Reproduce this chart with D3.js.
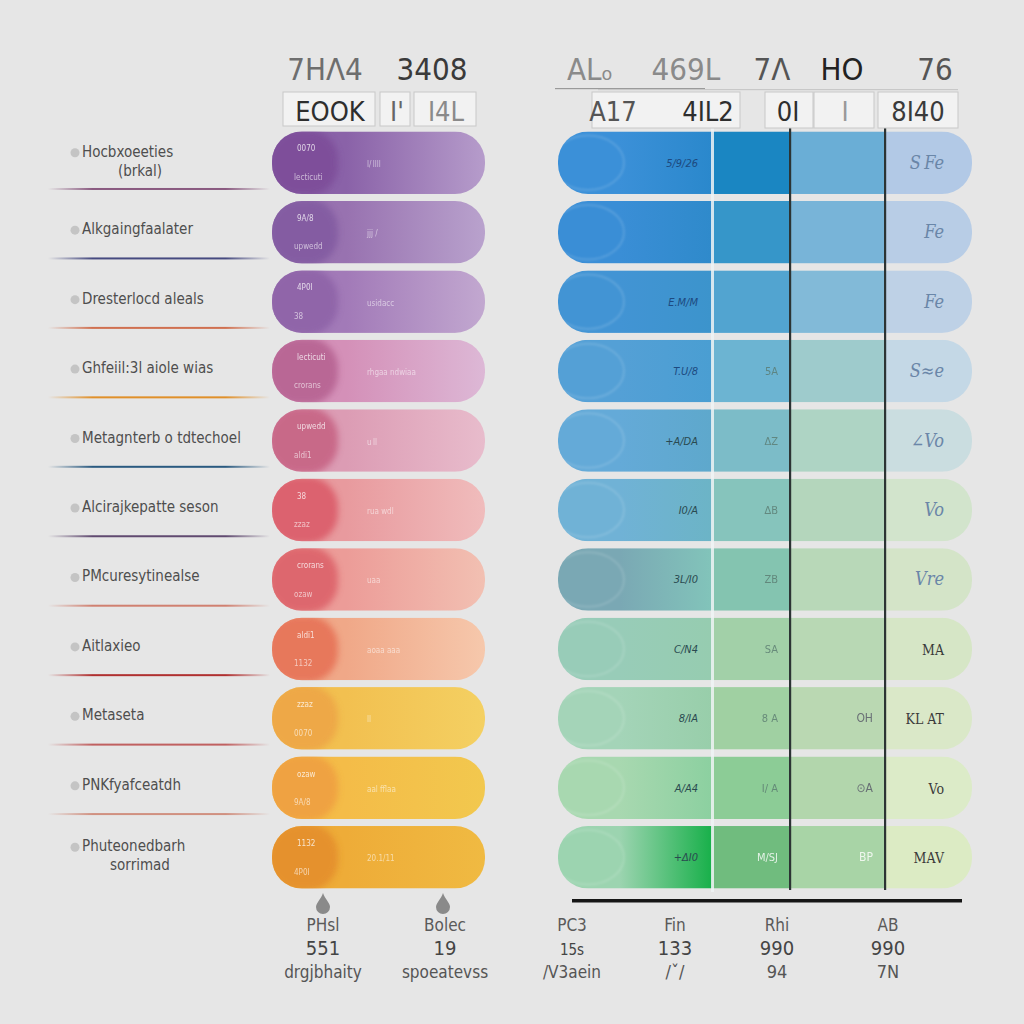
<!DOCTYPE html>
<html><head><meta charset="utf-8">
<script src="https://cdn.jsdelivr.net/npm/d3@7"></script>
<style>
body{margin:0;background:#e6e6e6;}
svg{display:block;font-family:"DejaVu Sans Condensed","DejaVu Sans",sans-serif;font-stretch:condensed;}
</style></head>
<body><svg id="c" width="1024" height="1024"></svg>
<script>
// ---------- data ----------
const categories = ["Hocbxoeeties\n(brkal)","Alkgaingfaalater","Dresterlocd aleals","Ghfeiil:3l aiole wias","Metagnterb o tdtechoel","Alcirajkepatte seson","PMcuresytinealse","Aitlaxieo","Metaseta","PNKfyafceatdh","Phuteonedbarh\nsorrimad"];
const leftTopNotes = ["0070","9A/8","4P0I","lecticuti","upwedd","38","crorans","aldi1","zzaz","ozaw","1132"];
const leftMidNotes = ["l/\u2009llll","jjj  /","usidacc","rhgaa  ndwiaa","u\u2009ll","rua  wdl","uaa","aoaa  aaa","ll","aal  fflaa","20.1/11"];
const col1Values = ["5/9/26","","E.M/M","T.U/8","+A/DA","I0/A","3L/I0","C/N4","8/IA","A/A4","+\u0394I0"];
const col2Values = ["","","","5A","\u0394\u0396","\u2206B","ZB","SA","8 A","I/ A","M/SJ"];
const col3Values = ["","","","","","","","","OH","\u2299A","BP"];
const col4Values = ["S\u2009Fe","Fe","Fe","S\u2248e","\u2220Vo","Vo","Vre","MA","KL AT","Vo","MAV"];
const headTop = ["7H\u039B4","3408","AL\u2092","469L","7\u039B","HO","76"];
const headSub = ["EOOK","I'","I4L","A17","4IL2","0I","I","8I40"];
const bottomNames = ["PHsl","Bolec","PC3","Fin","Rhi","AB"];
const bottomValues = ["551","19","15s","133","990","990"];
const bottomSubs = ["drgjbhaity","spoeatevss","/V3aein","/\u02C7\u2215","94","7N"];

// ---------- styles ----------
const sepColors = ["#8a5a80","#464a80","#d07050","#e0902a","#2a5a80","#604a70","#d08070","#b03030","#c06060","#d09080"];
const leftColors = [
 ["#7a4a96","#8a62a8","#b69ccb"],["#7e569e","#9872b0","#b9a2cd"],["#8a5ea4","#a27ab8","#c2a8d0"],
 ["#b05a8a","#d490b8","#ddb8d6"],["#c2587a","#dc9cb4","#e8bccc"],["#d8505e","#e89a9e","#f0bcbc"],
 ["#d95660","#ec9c98","#f2c0b2"],["#e4684e","#f0a888","#f6c8ac"],["#eca044","#f2c050","#f4d062"],
 ["#ee9a40","#f4bc48","#f2c84e"],["#e2882c","#eeac38","#f0ba42"]];
const rightColors = [
 ["#3b90d8","#2a88cc","#1a86c2","#6aaed6","#b2c9e6"],["#3a8ed6","#2f8acb","#3696c9","#78b4d8","#b8cde6"],
 ["#4294d4","#3c94cc","#52a4d0","#82bad8","#bed1e6"],["#54a0d6","#4a9ed2","#6cb4d2","#9ecbcc","#c4d8e6"],
 ["#64aad8","#5ea8cc","#7cbcc8","#aed4c4","#cadde0"],["#70b2d6","#6cb4c6","#86c4bc","#b4d6bc","#d2e4cc"],
 ["#7aa8b4","#82c4ba","#84c4b0","#b8d8b8","#d4e4c8"],["#98ccb8","#96ccb0","#a2d0a8","#b8d8b4","#d6e6c6"],
 ["#a4d4b8","#98ceaa","#a0d0a2","#bad8b2","#dae8c8"],["#a8d8b0","#8cd0a0","#8ccc96","#b2d6ac","#dcebc8"],
 ["#9cd4b0","#18b04a","#70bc7e","#a8d4a6","#dcebc4"]];

// ---------- layout ----------
const svg = d3.select("#c");
const defs = svg.append("defs");
const y = d3.scaleBand().domain(d3.range(categories.length)).range([128, 892]).paddingInner(0.1).paddingOuter(0.05);
const bw = y.bandwidth();
const LX0 = 272, LX1 = 485;
const colEdges = [558, 712, 790, 885, 972];

defs.append("filter").attr("id","blur").append("feGaussianBlur").attr("stdDeviation",3);
defs.append("filter").attr("id","blur1").append("feGaussianBlur").attr("stdDeviation",0.8);

// left label column
const lab = svg.append("g");
categories.forEach((c,i)=>{
  const lines = c.split("\n");
  const cy = y(i) + bw/2 - (lines.length>1?8:0) + 2;
  lab.append("circle").attr("cx",75).attr("cy",cy-4).attr("r",4.5).attr("fill","#c4c4c4");
  lines.forEach((t,j)=>{
    lab.append("text").attr("x", j===0?82:140).attr("y",cy+j*19)
      .attr("text-anchor", j===0?"start":"middle")
      .attr("font-size",15).attr("fill","#4e4e4e").text(t);
  });
  if(i < sepColors.length){
    const gid = "sg"+i;
    const g = defs.append("linearGradient").attr("id",gid);
    g.append("stop").attr("offset",0).attr("stop-color",sepColors[i]).attr("stop-opacity",0);
    g.append("stop").attr("offset",0.2).attr("stop-color",sepColors[i]).attr("stop-opacity",1);
    g.append("stop").attr("offset",0.8).attr("stop-color",sepColors[i]).attr("stop-opacity",1);
    g.append("stop").attr("offset",1).attr("stop-color",sepColors[i]).attr("stop-opacity",0);
    lab.append("rect").attr("x",48).attr("y",y(i)+bw-6).attr("width",222).attr("height",2).attr("fill",`url(#${gid})`);
  }
});

// left pills
const lp = svg.append("g");
categories.forEach((c,i)=>{
  const cols = leftColors[i];
  const gid = "lg"+i;
  const g = defs.append("linearGradient").attr("id",gid);
  g.append("stop").attr("offset",0).attr("stop-color",cols[1]);
  g.append("stop").attr("offset",0.35).attr("stop-color",cols[1]);
  g.append("stop").attr("offset",1).attr("stop-color",cols[2]);
  const cid = "lc"+i;
  defs.append("clipPath").attr("id",cid).append("rect").attr("x",LX0).attr("y",y(i)).attr("width",LX1-LX0).attr("height",bw).attr("rx",30);
  const gg = lp.append("g").attr("clip-path",`url(#${cid})`);
  gg.append("rect").attr("x",LX0).attr("y",y(i)).attr("width",LX1-LX0).attr("height",bw).attr("fill",`url(#${gid})`);
  gg.append("rect").attr("x",LX0-4).attr("y",y(i)-2).attr("width",70).attr("height",bw+4).attr("rx",30)
    .attr("fill",cols[0]).attr("opacity",0.75).attr("filter","url(#blur)");
  gg.append("text").attr("x",LX0+25).attr("y",y(i)+20).attr("font-size",8).attr("fill","#fff").attr("opacity",0.75).text(leftTopNotes[i]);
  gg.append("text").attr("x",LX0+22).attr("y",y(i)+bw-14).attr("font-size",8).attr("fill","#fff").attr("opacity",0.6).text(leftTopNotes[(i+3)%11]);
  gg.append("text").attr("x",LX0+95).attr("y",y(i)+bw/2+4).attr("font-size",8).attr("fill","#fff").attr("opacity",0.55).text(leftMidNotes[i]);
});
// droplets under left column
[323,443].forEach(x=>{
  svg.append("path").attr("d",`M${x},893 C${x+2},899 ${x+7},903 ${x+7},907 A7,7 0 1 1 ${x-7},907 C${x-7},903 ${x-2},899 ${x},893Z`).attr("fill","#8a8a8a");
});

// right table
const rp = svg.append("g");
categories.forEach((c,i)=>{
  const cols = rightColors[i];
  const cid = "rc"+i;
  defs.append("clipPath").attr("id",cid).append("rect").attr("x",colEdges[0]).attr("y",y(i)).attr("width",colEdges[4]-colEdges[0]).attr("height",bw).attr("rx",30);
  const gg = rp.append("g").attr("clip-path",`url(#${cid})`);
  const gid = "rg"+i;
  const g = defs.append("linearGradient").attr("id",gid);
  g.append("stop").attr("offset",0).attr("stop-color",cols[0]);
  g.append("stop").attr("offset",0.4).attr("stop-color",cols[0]);
  g.append("stop").attr("offset",1).attr("stop-color",cols[1]);
  gg.append("rect").attr("x",colEdges[0]).attr("y",y(i)).attr("width",colEdges[1]-colEdges[0]).attr("height",bw).attr("fill",`url(#${gid})`);
  for(let k=1;k<4;k++){
    gg.append("rect").attr("x",colEdges[k]).attr("y",y(i)).attr("width",colEdges[k+1]-colEdges[k]).attr("height",bw).attr("fill",cols[k+1]);
  }
  gg.append("ellipse").attr("cx",colEdges[0]+30).attr("cy",y(i)+bw/2).attr("rx",36).attr("ry",bw/2-4)
    .attr("fill","none").attr("stroke","#fff").attr("stroke-opacity",0.14).attr("stroke-width",2).attr("filter","url(#blur1)");
  gg.append("text").attr("x",colEdges[1]-14).attr("y",y(i)+bw/2+4).attr("text-anchor","end").attr("font-size",11)
    .attr("fill", i<4?"#1d4a80":"#2a4a50").attr("font-style","italic").text(col1Values[i]);
  gg.append("text").attr("x",colEdges[2]-12).attr("y",y(i)+bw/2+4).attr("text-anchor","end").attr("font-size",11)
    .attr("fill", i>=10?"#ffffff":"#5a7a70").attr("opacity",0.8).text(col2Values[i]);
  gg.append("text").attr("x",colEdges[3]-12).attr("y",y(i)+bw/2+4).attr("text-anchor","end").attr("font-size",12)
    .attr("fill", i>=10?"#ffffff":"#556").attr("opacity",0.8).text(col3Values[i]);
  gg.append("text").attr("x",colEdges[4]-28).attr("y",y(i)+bw/2+6).attr("text-anchor","end").attr("font-size",i>=7?14:18)
    .attr("font-family","DejaVu Serif, serif").attr("font-style", i>=7?"normal":"italic")
    .attr("fill", i>=7?"#3a3a3a":"#6a86a8").text(col4Values[i]);
});
// light gap at first column split
rp.append("rect").attr("x",colEdges[1]-1).attr("y",128).attr("width",3).attr("height",764).attr("fill","#eef3f4").attr("opacity",0.85);
// dark column rules
[colEdges[2],colEdges[3]].forEach(x=>{
  rp.append("rect").attr("x",x-1).attr("y",128).attr("width",2.2).attr("height",762).attr("fill","#2c3434");
});
// bottom rule
svg.append("rect").attr("x",572).attr("y",899).attr("width",390).attr("height",3.5).attr("fill","#161616");

// header top row
const htX = [325,432,590,686,772,842,935];
const htFill = ["#6e6e6e","#3a3a3a","#8a8a8a","#8a8a8a","#555","#222","#555"];
headTop.forEach((t,i)=>{
  svg.append("text").attr("x",htX[i]).attr("y",80).attr("text-anchor","middle").attr("font-size",31)
    .attr("fill",htFill[i]).text(t);
});
svg.append("rect").attr("x",555).attr("y",88).attr("width",150).attr("height",1.2).attr("fill","#9a9a9a");
svg.append("rect").attr("x",598).attr("y",89).attr("width",360).attr("height",1.2).attr("fill","#c8c8c8");
// header sub row boxes
const boxes = [[283,92,92,34],[380,92,30,34],[414,92,62,34],[592,92,148,36],[765,92,48,36],[814,92,60,36],[878,92,80,36]];
boxes.forEach(b=>{
  svg.append("rect").attr("x",b[0]).attr("y",b[1]).attr("width",b[2]).attr("height",b[3]).attr("fill","#f2f2f2").attr("stroke","#c8c8c8").attr("stroke-width",1);
});
const hsX = [330,397,446,613,708,788,845,918];
const hsFill = ["#2e2e2e","#666","#8a8a8a","#555","#2e2e2e","#2e2e2e","#999","#3a3a3a"];
headSub.forEach((t,i)=>{
  svg.append("text").attr("x",hsX[i]).attr("y",121).attr("text-anchor","middle").attr("font-size",27)
    .attr("fill",hsFill[i]).text(t);
});

// bottom labels
const bx = [323,445,572,675,777,888];
bottomNames.forEach((n,i)=>{
  const x = bx[i];
  svg.append("text").attr("x",x).attr("y",931).attr("text-anchor","middle").attr("font-size",17).attr("fill","#5a5a5a").text(n);
  svg.append("text").attr("x",x).attr("y",955).attr("text-anchor","middle").attr("font-size",i===2?15:20).attr("fill","#444").text(bottomValues[i]);
  svg.append("text").attr("x",x).attr("y",978).attr("text-anchor","middle").attr("font-size",i>=3?18:17).attr("fill","#555").text(bottomSubs[i]);
});
</script></body></html>
